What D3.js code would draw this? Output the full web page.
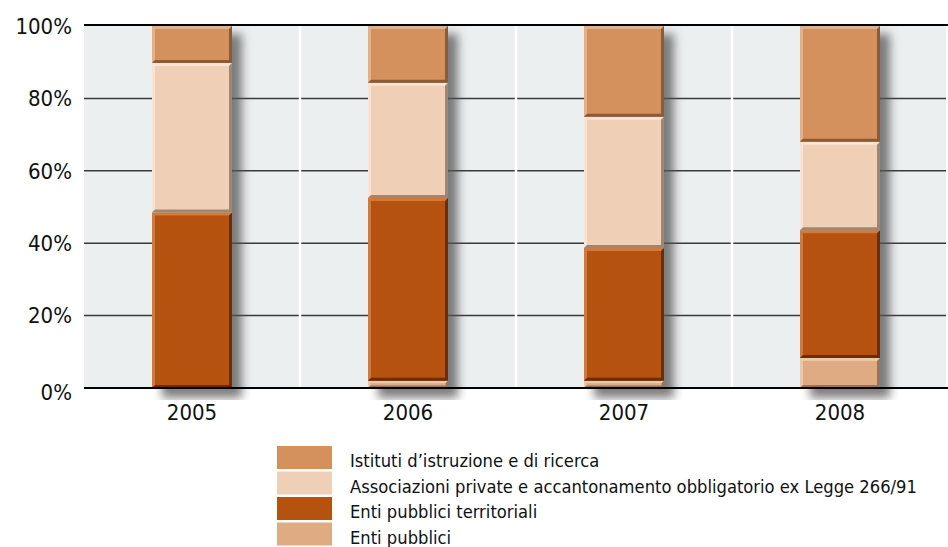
<!DOCTYPE html>
<html>
<head>
<meta charset="utf-8">
<script src="https://cdn.jsdelivr.net/npm/d3@7.9.0/dist/d3.min.js"></script>
<style>
  body { margin: 0; background: #fff; }
  svg { display: block; font-family: 'DejaVu Sans Condensed', 'DejaVu Sans', sans-serif; }
</style>
</head>
<body>
<svg id="chart" width="948" height="547"></svg>
<script>
const years = ['2005', '2006', '2007', '2008'];
const seriesNames = [
  'Enti pubblici',
  'Enti pubblici territoriali',
  'Associazioni private e accantonamento obbligatorio ex Legge 266/91',
  'Istituti d\u2019istruzione e di ricerca'
];
const entiPubblici = [0, 2, 2, 8.3];
const entiTerritoriali = [48.5, 50.5, 36.7, 35.3];
const associazioni = [41.3, 31.8, 36.2, 24.4];
const istituti = [10.2, 15.7, 25.1, 32];
const yTicks = [0, 20, 40, 60, 80, 100];

const colors = ['#deab82', '#b5520f', '#efd0b7', '#d4915e'];
const lightEdge = ['#ecc7a8', '#cf7a3e', '#f7e4d4', '#e4b089'];
const darkEdge = ['#9c7358', '#6e2c02', '#a08670', '#8c5a35'];

const svg = d3.select('#chart');
const pL = 84, pR = 946, pT = 26, pB = 388;

const x = d3.scaleBand().domain(years).range([pL, pR + 2]).paddingInner(0).paddingOuter(0);
const y = d3.scaleLinear().domain([0, 100]).range([pB, pT]);
const barW = 80;

const rows = years.map((yr, i) => ({
  year: yr,
  values: [entiPubblici[i], entiTerritoriali[i], associazioni[i], istituti[i]]
}));

const defs = svg.append('defs');
const f = defs.append('filter').attr('id', 'shadow').attr('x', '-50%').attr('y', '-20%').attr('width', '200%').attr('height', '140%');
f.append('feGaussianBlur').attr('stdDeviation', 5);

// plot background
svg.append('rect').attr('x', pL).attr('y', pT).attr('width', pR - pL).attr('height', pB - pT).attr('fill', '#ebeff0');

// horizontal gridlines
svg.append('g').selectAll('line').data(yTicks.filter(t => t > 0 && t < 100)).join('line')
  .attr('x1', pL).attr('x2', pR)
  .attr('y1', d => y(d)).attr('y2', d => y(d))
  .attr('stroke', '#3a3a3a').attr('stroke-width', 1.5);

// vertical white separators
svg.append('g').selectAll('line').data(years.slice(1)).join('line')
  .attr('x1', d => x(d)).attr('x2', d => x(d))
  .attr('y1', pT).attr('y2', pB)
  .attr('stroke', '#fff').attr('stroke-width', 2.5);

// shadows
svg.append('g').selectAll('rect').data(rows).join('rect')
  .attr('x', d => x(d.year) + x.bandwidth() / 2 - barW / 2 + 10)
  .attr('y', d => y(d3.sum(d.values)) + 8)
  .attr('width', barW)
  .attr('height', d => pB - y(d3.sum(d.values)) + 2)
  .attr('fill', '#555').attr('opacity', 0.75)
  .attr('filter', 'url(#shadow)');

svg.append('rect').attr('x', pL).attr('y', pB + 12).attr('width', pR - pL).attr('height', 30).attr('fill', '#fff');

// bars
const bars = svg.append('g');
rows.forEach(r => {
  let acc = 0;
  const bx = x(r.year) + x.bandwidth() / 2 - barW / 2;
  r.values.forEach((v, k) => {
    if (v <= 0) return;
    const y0 = y(acc + v), y1 = y(acc);
    acc += v;
    const h = y1 - y0;
    const g = bars.append('g');
    g.append('rect').attr('x', bx).attr('y', y0).attr('width', barW).attr('height', h).attr('fill', colors[k]);
    const b = Math.min(3, h / 3);
    g.append('path').attr('d', `M${bx},${y0}H${bx + barW}L${bx + barW - b},${y0 + b}H${bx + b}V${y1 - b}L${bx},${y1}Z`).attr('fill', lightEdge[k]);
    g.append('path').attr('d', `M${bx + barW},${y0}V${y1}H${bx}L${bx + b},${y1 - b}H${bx + barW - b}V${y0 + b}Z`).attr('fill', darkEdge[k]);
  });
});

// top and bottom lines
svg.append('line').attr('x1', pL).attr('x2', pR + 2).attr('y1', pT - 1).attr('y2', pT - 1).attr('stroke', '#000').attr('stroke-width', 2);
svg.append('line').attr('x1', pL).attr('x2', pR + 2).attr('y1', pB).attr('y2', pB).attr('stroke', '#000').attr('stroke-width', 2);

// y labels
svg.append('g').selectAll('text').data(yTicks).join('text')
  .attr('x', 72).attr('y', d => y(d) + (d === 0 ? 4 : 0))
  .attr('dy', '0.35em').attr('text-anchor', 'end')
  .attr('font-size', 22).attr('fill', '#111')
  .text(d => d + '%');

// x labels
svg.append('g').selectAll('text').data(years).join('text')
  .attr('x', d => x(d) + x.bandwidth() / 2).attr('y', 420)
  .attr('text-anchor', 'middle').attr('font-size', 22).attr('fill', '#111')
  .text(d => d);

// legend (top = Istituti)
const legendOrder = [3, 2, 1, 0];
const lg = svg.append('g');
legendOrder.forEach((k, i) => {
  const ly = 446 + i * 25.5;
  lg.append('rect').attr('x', 277).attr('y', ly).attr('width', 55).attr('height', 23).attr('fill', colors[k]);
  lg.append('text').attr('x', 350).attr('y', ly + 15).attr('dy', '0.35em')
    .attr('font-size', 18.2).attr('fill', '#111').text(seriesNames[k]);
});
</script>
</body>
</html>
